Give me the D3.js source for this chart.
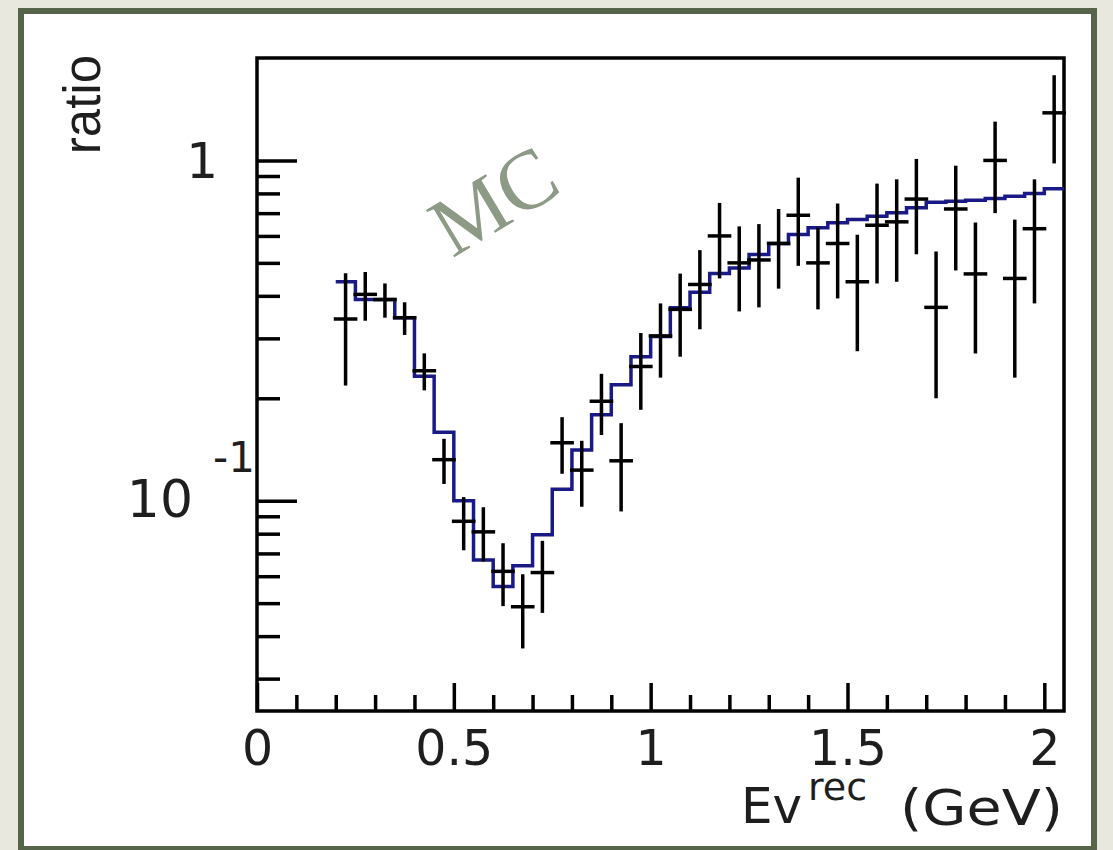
<!DOCTYPE html>
<html>
<head lang="en">
    <meta charset="UTF-8">
    <title>ratio vs Ev rec</title>
    <style>
        body { margin: 0; background: #e9e8df; }
        svg { display: block; }
        .tick line { stroke: #000; stroke-width: 3.5; }
        .lbl { font-family: "DejaVu Sans", sans-serif; fill: #1e1e1e; }
    </style>
</head>
<body>
<svg id="chart" width="1113" height="850"></svg>
<script src="https://d3js.org/d3.v7.min.js"></script>
<script>

    // bin low edges (width 0.05 GeV)
    let binLow = [0.20, 0.25, 0.30, 0.35, 0.40, 0.45, 0.50, 0.55, 0.60, 0.65,
                  0.70, 0.75, 0.80, 0.85, 0.90, 0.95, 1.00, 1.05, 1.10, 1.15,
                  1.20, 1.25, 1.30, 1.35, 1.40, 1.45, 1.50, 1.55, 1.60, 1.65,
                  1.70, 1.75, 1.80, 1.85, 1.90, 1.95, 2.00];
    let binWidth = 0.05;

    // data points (black crosses)
    let dataVal = [0.342, 0.404, 0.390, 0.345, 0.241, 0.132, 0.087, 0.081, 0.062, 0.0488,
                   0.0615, 0.148, 0.123, 0.196, 0.131, 0.248, 0.305, 0.365, 0.432, 0.600,
                   0.500, 0.510, 0.570, 0.690, 0.500, 0.570, 0.440, 0.645, 0.660, 0.770,
                   0.370, 0.720, 0.464, 1.000, 0.450, 0.630, 1.380];
    let dataErr = [0.124, 0.066, 0.045, 0.038, 0.030, 0.020, 0.0155, 0.0147, 0.013, 0.012,
                   0.0147, 0.028, 0.027, 0.040, 0.038, 0.063, 0.075, 0.100, 0.113, 0.150,
                   0.140, 0.140, 0.150, 0.200, 0.135, 0.177, 0.165, 0.210, 0.220, 0.240,
                   0.170, 0.245, 0.193, 0.300, 0.220, 0.250, 0.400];

    // MC histogram (blue steps)
    let mcVal = [0.440, 0.390, 0.390, 0.345, 0.232, 0.159, 0.100, 0.067, 0.056, 0.0644,
                 0.0794, 0.108, 0.141, 0.179, 0.219, 0.265, 0.304, 0.369, 0.410, 0.465,
                 0.483, 0.529, 0.570, 0.606, 0.634, 0.656, 0.671, 0.686, 0.702, 0.726,
                 0.754, 0.759, 0.764, 0.773, 0.785, 0.800, 0.826];

    let xMajor = [0, 0.5, 1, 1.5, 2];
    let xMinor = [0.1, 0.2, 0.3, 0.4, 0.6, 0.7, 0.8, 0.9, 1.1, 1.2, 1.3, 1.4,
                  1.6, 1.7, 1.8, 1.9];
    let yMajor = [0.1, 1];
    let yMinor = [0.03, 0.04, 0.05, 0.06, 0.07, 0.08, 0.09,
                  0.2, 0.3, 0.4, 0.5, 0.6, 0.7, 0.8, 0.9];

    let frame = {left: 257, right: 1064, top: 58, bottom: 711};

    let svg = d3.select('#chart');

    // page background and white panel with green border
    svg.append('rect')
        .attr('width', 1113).attr('height', 850)
        .attr('fill', '#e9e8df');
    svg.append('rect')
        .attr('x', 21).attr('y', 11)
        .attr('width', 1073).attr('height', 838)
        .attr('fill', '#fff')
        .attr('stroke', '#56654a')
        .attr('stroke-width', 6);

    let x = d3.scaleLinear()
        .domain([0, 2.05])
        .range([frame.left, frame.right]);

    let y = d3.scaleLog()
        .domain([0.0241, 2.0])
        .range([frame.bottom, frame.top]);

    // ticks (inward), major and minor
    svg.append('g')
        .attr('transform', 'translate(0,' + frame.bottom + ')')
        .call(d3.axisBottom(x).tickValues(xMinor).tickSize(-16).tickFormat(''))
        .call(g => g.select('.domain').remove());

    svg.append('g')
        .attr('transform', 'translate(0,' + frame.bottom + ')')
        .call(d3.axisBottom(x).tickValues(xMajor).tickSize(-28).tickPadding(19)
            .tickFormat(d3.format('')))
        .call(g => g.select('.domain').remove())
        .call(g => g.selectAll('text')
            .attr('class', 'lbl')
            .attr('font-size', 49)
            .attr('fill', '#1e1e1e'));

    svg.append('g')
        .attr('transform', 'translate(' + frame.left + ',0)')
        .call(d3.axisLeft(y).tickValues(yMinor).tickSize(-23).tickFormat(''))
        .call(g => g.select('.domain').remove());

    svg.append('g')
        .attr('transform', 'translate(' + frame.left + ',0)')
        .call(d3.axisLeft(y).tickValues(yMajor).tickSize(-40).tickFormat(''))
        .call(g => g.select('.domain').remove());

    // y tick labels, ROOT style
    svg.append('text')
        .attr('class', 'lbl')
        .attr('x', 218).attr('y', y(1) + 18)
        .attr('text-anchor', 'end')
        .attr('font-size', 50)
        .text('1');
    svg.append('text')
        .attr('class', 'lbl')
        .attr('x', 193).attr('y', y(0.1) + 16)
        .attr('text-anchor', 'end')
        .attr('font-size', 52)
        .text('10');
    svg.append('text')
        .attr('class', 'lbl')
        .attr('x', 213).attr('y', y(0.1) - 29)
        .attr('font-size', 42)
        .text('-1');

    // frame
    svg.append('rect')
        .attr('x', frame.left).attr('y', frame.top)
        .attr('width', frame.right - frame.left)
        .attr('height', frame.bottom - frame.top)
        .attr('fill', 'none')
        .attr('stroke', '#000')
        .attr('stroke-width', 3.5);

    // MC text
    svg.append('text')
        .attr('transform', 'translate(494,201) rotate(-31)')
        .attr('text-anchor', 'middle')
        .attr('dy', '0.33em')
        .attr('font-family', '"Liberation Serif", "DejaVu Serif", serif')
        .attr('font-size', 84)
        .attr('fill', '#8c9a86')
        .text('MC');

    // MC histogram as steps
    let mcPts = binLow.map((b, i) => [b, mcVal[i]]);
    mcPts.push([binLow[binLow.length - 1] + binWidth, mcVal[mcVal.length - 1]]);

    let step = d3.line()
        .x(d => x(d[0]))
        .y(d => y(d[1]))
        .curve(d3.curveStepAfter);

    svg.append('path')
        .datum(mcPts)
        .attr('fill', 'none')
        .attr('stroke', '#1a1a86')
        .attr('stroke-width', 3.5)
        .attr('d', step);

    // data crosses
    let xHalf = 0.03;
    let pts = svg.append('g')
        .attr('stroke', '#000')
        .attr('stroke-width', 3.5)
        .selectAll('g')
        .data(binLow.map((b, i) => ({c: b + binWidth / 2, v: dataVal[i], e: dataErr[i]})))
        .join('g');

    pts.append('line')
        .attr('x1', d => x(d.c)).attr('x2', d => x(d.c))
        .attr('y1', d => y(d.v + d.e))
        .attr('y2', d => y(Math.max(d.v - d.e, 0.0241)));

    pts.append('line')
        .attr('x1', d => x(d.c - xHalf)).attr('x2', d => x(d.c + xHalf))
        .attr('y1', d => y(d.v)).attr('y2', d => y(d.v));

    // axis titles
    svg.append('text')
        .attr('transform', 'translate(100,55) rotate(-90)')
        .attr('text-anchor', 'end')
        .attr('font-family', '"Liberation Sans", Arial, sans-serif')
        .attr('font-size', 51)
        .attr('fill', '#1e1e1e')
        .text('ratio');

    svg.append('text')
        .attr('class', 'lbl')
        .attr('x', 741).attr('y', 823)
        .attr('font-size', 50)
        .text('Ev');
    svg.append('text')
        .attr('class', 'lbl')
        .attr('x', 808).attr('y', 800)
        .attr('font-size', 38)
        .text('rec');
    svg.append('text')
        .attr('class', 'lbl')
        .attr('x', 900).attr('y', 825)
        .attr('font-size', 50)
        .attr('textLength', 163)
        .attr('lengthAdjust', 'spacingAndGlyphs')
        .text('(GeV)');

</script>
</body>
</html>
